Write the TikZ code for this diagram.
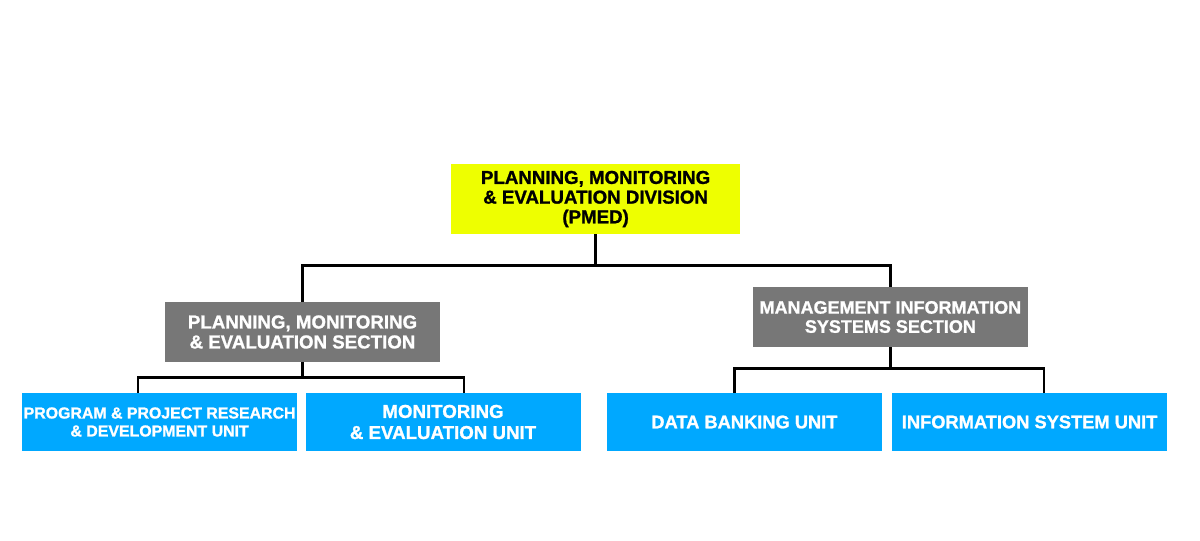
\documentclass[tikz,border=0pt]{standalone}
\usepackage{fontspec}
\setmainfont{Liberation Sans}[BoldFeatures={FakeBold=1.2}]
\usepackage{tikz}
\usetikzlibrary{positioning,calc}
\definecolor{DivYellow}{HTML}{EEFF00}
\definecolor{SecGray}{HTML}{777777}
\definecolor{UnitBlue}{HTML}{00A8FF}

\begin{document}
\begin{tikzpicture}[
      font=\bfseries\fontsize{13}{14.2}\selectfont,
      divbox/.style={rectangle, fill=DivYellow, text=black, align=center,
                     minimum width=7.225cm, minimum height=1.75cm,
                     inner sep=0pt},
      secbox/.style={rectangle, fill=SecGray, text=white, align=center,
                     minimum width=6.875cm, minimum height=1.5cm,
                     inner sep=0pt},
      unitbox/.style={rectangle, fill=UnitBlue, text=white, align=center,
                      minimum width=6.875cm, minimum height=1.45cm,
                      inner sep=0pt},
      conn/.style={draw=black, line width=2.1pt},
    ]
      \useasboundingbox (0,0) rectangle (30,13.5);

      \node[divbox, font=\bfseries\fontsize{13.3}{14}\selectfont]
            (pmed) at (14.89, 8.525) {%
        PLANNING, MONITORING\\
        \& EVALUATION DIVISION\\
        (PMED)};

      \node[secbox, font=\bfseries\fontsize{13.3}{14.2}\selectfont]
            (pmes) at (7.5625, 5.2) {%
        PLANNING, MONITORING\\
        \& EVALUATION SECTION};
      \node[secbox, font=\bfseries\fontsize{12.8}{13.6}\selectfont]
            (miss) at (22.26, 5.575) {%
        MANAGEMENT INFORMATION\\
        SYSTEMS SECTION};

      \node[unitbox, font=\bfseries\fontsize{11.3}{12.8}\selectfont]
            (prdu) at (3.99, 2.95) {%
        PROGRAM \& PROJECT RESEARCH\\
        \& DEVELOPMENT UNIT};
      \node[unitbox, font=\bfseries\fontsize{13.3}{15}\selectfont]
            (meu) at (11.075, 2.95) {%
        MONITORING\\
        \& EVALUATION UNIT};
      \node[unitbox] (dbu) at (18.61, 2.95) {DATA BANKING UNIT};
      \node[unitbox] (isu) at (25.74, 2.95) {INFORMATION SYSTEM UNIT};

      % division to sections
      \draw[conn] (pmed.south) -- ++(0,-0.775) coordinate (jdiv);
      \draw[conn] (pmes.north) |- (jdiv) -| (miss.north);

      % sections to units
      \draw[conn] (pmes.south) -- ++(0,-0.375) coordinate (jpmes);
      \draw[conn] ([xshift=-0.54cm]prdu.north) |- (jpmes)
                  -| ([xshift=0.525cm]meu.north);
      \draw[conn] (miss.south) -- ++(0,-0.525) coordinate (jmiss);
      \draw[conn] ([xshift=-0.24cm]dbu.north) |- (jmiss)
                  -| ([xshift=0.36cm]isu.north);
    \end{tikzpicture}
\end{document}
